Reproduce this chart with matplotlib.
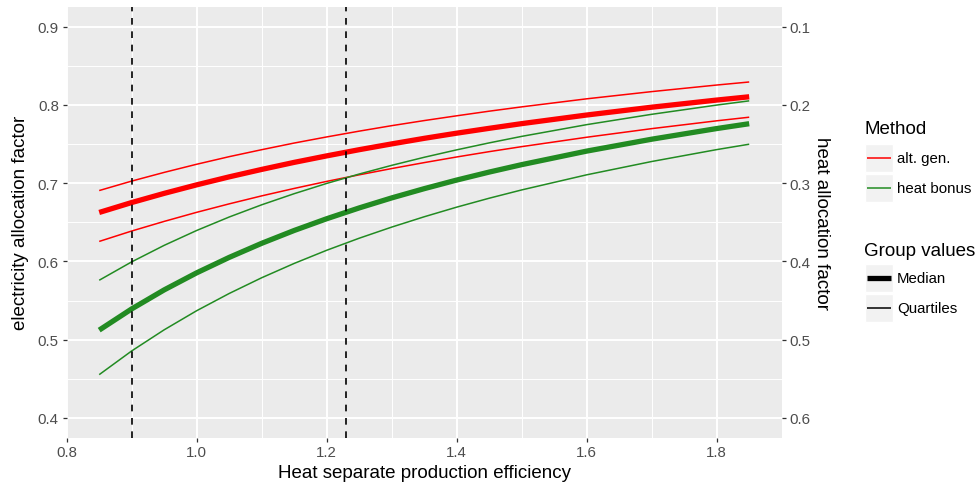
import matplotlib
matplotlib.use("Agg")
import matplotlib.pyplot as plt
from matplotlib.patches import Rectangle
from matplotlib.lines import Line2D

plt.rcParams['font.family'] = ['Liberation Sans', 'DejaVu Sans']

# ---- data ----
efficiency = [0.85, 0.90, 0.95, 1.00, 1.05, 1.10, 1.15, 1.20, 1.25, 1.30, 1.35,
              1.40, 1.45, 1.50, 1.60, 1.70, 1.80, 1.85]
alt_gen_q3 = [0.6905, 0.7026, 0.7137, 0.7241, 0.7338, 0.7427, 0.7512, 0.7590, 0.7664,
              0.7734, 0.7799, 0.7860, 0.7919, 0.7974, 0.8077, 0.8169, 0.8253, 0.8292]
alt_gen_median = [0.6625, 0.6752, 0.6869, 0.6978, 0.7080, 0.7175, 0.7265, 0.7348, 0.7427,
                  0.7501, 0.7572, 0.7638, 0.7700, 0.7760, 0.7870, 0.7970, 0.8061, 0.8103]
alt_gen_q1 = [0.6255, 0.6388, 0.6511, 0.6627, 0.6735, 0.6837, 0.6932, 0.7022, 0.7106,
              0.7186, 0.7262, 0.7334, 0.7402, 0.7466, 0.7586, 0.7696, 0.7796, 0.7842]
heat_bonus_q3 = [0.5759, 0.5994, 0.6205, 0.6395, 0.6567, 0.6723, 0.6865, 0.6996, 0.7116,
                 0.7227, 0.7330, 0.7425, 0.7514, 0.7597, 0.7747, 0.7879, 0.7997, 0.8051]
heat_bonus_median = [0.5122, 0.5393, 0.5636, 0.5854, 0.6051, 0.6231, 0.6395, 0.6545, 0.6683,
                     0.6811, 0.6929, 0.7039, 0.7141, 0.7236, 0.7409, 0.7561, 0.7697, 0.7759]
heat_bonus_q1 = [0.4553, 0.4856, 0.5126, 0.5370, 0.5590, 0.5791, 0.5974, 0.6142, 0.6296,
                 0.6438, 0.6570, 0.6693, 0.6807, 0.6913, 0.7106, 0.7276, 0.7428, 0.7497]
quartile_markers = [0.90, 1.23]

x_major = [0.8, 1.0, 1.2, 1.4, 1.6, 1.8]
x_minor = [0.9, 1.1, 1.3, 1.5, 1.7]
y_major = [0.4, 0.5, 0.6, 0.7, 0.8, 0.9]
y_minor = [0.45, 0.55, 0.65, 0.75, 0.85]
heat_ticks = [0.1, 0.2, 0.3, 0.4, 0.5, 0.6]

RED = '#FF0000'
GREEN = '#228B22'
W, H = 977, 489

fig = plt.figure(figsize=(W / 100, H / 100), dpi=100)
ax = fig.add_axes([66.7 / W, 1 - 438.5 / H, 715 / W, 430.5 / H])
ax.set_facecolor('#EBEBEB')
for s in ax.spines.values():
    s.set_visible(False)
ax.set_xlim(0.8, 1.9)
ax.set_ylim(0.375, 0.925)
ax.set_xticks(x_major)
ax.set_xticks(x_minor, minor=True)
ax.set_yticks(y_major)
ax.set_yticks(y_minor, minor=True)
ax.set_xticklabels([f"{v:.1f}" for v in x_major])
ax.set_yticklabels([f"{v:.1f}" for v in y_major])
ax.grid(which='major', color='white', linewidth=1.4)
ax.grid(which='minor', color='white', linewidth=0.7)
ax.set_axisbelow(True)
ax.tick_params(which='major', length=3.2, width=0.9, color='#333333',
               labelcolor='#4D4D4D', labelsize=10.8, pad=2.5)
ax.tick_params(which='minor', length=0)

thin = 1.1
thick = 3.8
kw = dict(solid_capstyle='butt', solid_joinstyle='round')
ax.plot(efficiency, alt_gen_q3, color=RED, lw=thin, **kw)
ax.plot(efficiency, alt_gen_median, color=RED, lw=thick, **kw)
ax.plot(efficiency, alt_gen_q1, color=RED, lw=thin, **kw)
ax.plot(efficiency, heat_bonus_q3, color=GREEN, lw=thin, **kw)
ax.plot(efficiency, heat_bonus_median, color=GREEN, lw=thick, **kw)
ax.plot(efficiency, heat_bonus_q1, color=GREEN, lw=thin, **kw)
for v in quartile_markers:
    ax.axvline(v, color='black', lw=1.2, ls=(0, (4, 4)))

ax.set_xlabel('Heat separate production efficiency', fontsize=13.5, labelpad=3)
ax.set_ylabel('electricity allocation factor', fontsize=13.5, labelpad=6)

ax2 = ax.twinx()
for s in ax2.spines.values():
    s.set_visible(False)
ax2.set_ylim(1 - 0.375, 1 - 0.925)
ax2.set_yticks(heat_ticks)
ax2.set_yticklabels([f"{v:.1f}" for v in heat_ticks])
ax2.tick_params(length=3.2, width=0.9, color='#333333',
                labelcolor='#4D4D4D', labelsize=10.8, pad=2.5)
ax2.set_ylabel('heat allocation factor', fontsize=13.5, rotation=270,
               labelpad=14)


# ---- legend (drawn in figure pixel coordinates) ----
def fx(x):
    return x / W


def fy(y):
    return 1 - y / H


def key_box(y0):
    fig.add_artist(Rectangle((fx(865), fy(y0 + 28)), 28 / W, 28 / H,
                             transform=fig.transFigure, facecolor='#F2F2F2',
                             edgecolor='white', lw=1))


def key_line(yc, color, lw):
    fig.add_artist(Line2D([fx(867), fx(891)], [fy(yc), fy(yc)],
                          transform=fig.transFigure, color=color, lw=lw,
                          solid_capstyle='butt'))


fig.text(fx(864), fy(130), 'Method', fontsize=13.5, va='center', ha='left')
key_box(145)
key_box(175)
key_line(159, RED, thin)
key_line(189, GREEN, thin)
fig.text(fx(897), fy(159), 'alt. gen.', fontsize=10.8, va='center', ha='left')
fig.text(fx(897), fy(189), 'heat bonus', fontsize=10.8, va='center', ha='left')

fig.text(fx(864), fy(252), 'Group values', fontsize=13.5, va='center', ha='left')
key_box(265)
key_box(295)
key_line(279, 'black', thick)
key_line(309, 'black', thin)
fig.text(fx(897), fy(279), 'Median', fontsize=10.8, va='center', ha='left')
fig.text(fx(897), fy(309), 'Quartiles', fontsize=10.8, va='center', ha='left')

fig.savefig('out.png', dpi=100, facecolor='white')
